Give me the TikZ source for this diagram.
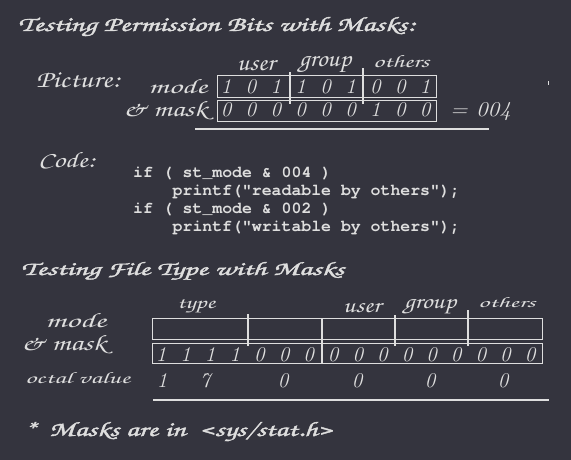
\documentclass[tikz,border=0pt]{standalone}
\usepackage{fontspec}
\usepackage{graphicx}
\newfontfamily\chorus{TeX Gyre Chorus}
\newfontfamily\chorusb[FakeBold=1.6]{TeX Gyre Chorus}
\newfontfamily\codefont{TeX Gyre Cursor}
\definecolor{bgc}{RGB}{52,52,62}
\definecolor{fgc}{RGB}{222,222,222}
\newcommand\fitbox[3]{\resizebox{#1}{#2}{#3}}
\begin{document}
\begin{tikzpicture}[x=1pt,y=-1pt,
  lbl/.style={inner sep=0pt, anchor=base west, text=fgc, font=\chorus\fontsize{20}{24}\selectfont},
  ttl/.style={inner sep=0pt, anchor=base west, text=fgc, font=\chorusb\fontsize{20}{24}\selectfont},
  dig/.style={inner sep=0pt, anchor=base, text=fgc, font=\fontsize{21}{24}\selectfont\itshape},
  code/.style={inner sep=0pt, anchor=base west, text=fgc, font=\codefont\bfseries\fontsize{16.5}{18}\selectfont},
  boxline/.style={draw=fgc, line width=1pt},
  sepline/.style={draw=fgc, line width=2pt},
  rule/.style={draw=fgc, line width=2.2pt}]
\fill[bgc] (0,0) rectangle (571,460);
\useasboundingbox (0,0) rectangle (571,460);

% ---------- section 1 ----------
\node[ttl] (title1) at (18,31) {\fitbox{397pt}{14pt}{Testing Permission Bits with Masks:}};
\node[lbl] (picture) at (36,88) {\fitbox{84pt}{15pt}{Picture:}};
\node[lbl] (mode1) at (148,93) {\fitbox{59pt}{14pt}{mode}};
\node[lbl] (mask1) at (123,117) {\fitbox{84pt}{15pt}{\& mask}};
\node[lbl] (user1) at (237,71) {\fitbox{38pt}{10pt}{user}};
\node[lbl] (group1) at (299,67) {\fitbox{52pt}{10pt}{group}};
\node[lbl] (others1) at (373,67) {\fitbox{56pt}{12pt}{others}};

\draw[boxline] (217.3,76) rectangle (436.7,97.3);
\draw[boxline] (217.3,101) rectangle (436.7,121.7);
\coordinate (s1t) at (290,72); \coordinate (s1b) at (290,104);
\coordinate (s2t) at (363,68); \coordinate (s2b) at (363,104);
\draw[sepline] (s1t) -- (s1b);
\draw[sepline] (s2t) -- (s2b);

\foreach \d [count=\i from 0] in {1,0,1,1,0,1,0,0,1}
  \node[dig] (m\i) at (226+24.9*\i,94) {\d};
\foreach \d [count=\i from 0] in {0,0,0,0,0,0,1,0,0}
  \node[dig] (k\i) at (226+24.9*\i,117) {\d};

\node[inner sep=0pt, anchor=base west, text=fgc, font=\fontsize{21}{24}\selectfont\itshape] (res1) at (450,117) {\fitbox{61pt}{14pt}{= 004}};
\coordinate (r1a) at (195,129); \coordinate (r1b) at (489,129);
\draw[rule] (r1a) -- (r1b);
\coordinate (tka) at (548,81); \coordinate (tkb) at (548,85);
\draw[draw=fgc, line width=1pt] (tka) -- (tkb);

% ---------- code ----------
\node[lbl] (codelbl) at (38,167) {\fitbox{57pt}{15pt}{Code:}};
\node[code] (c1) at (133,177) {if ( st\_mode \& 004 )};
\node[code] (c2) at (172.5,195) {printf("readable by others");};
\node[code] (c3) at (133,213) {if ( st\_mode \& 002 )};
\node[code] (c4) at (172.5,231) {printf("writable by others");};

% ---------- section 2 ----------
\node[ttl] (title2) at (21,275) {\fitbox{323pt}{13pt}{Testing File Type with Masks}};
\node[lbl] (mode2) at (45,327) {\fitbox{61pt}{14pt}{mode}};
\node[lbl] (mask2) at (21,350) {\fitbox{85pt}{15pt}{\& mask}};
\node[lbl] (octal) at (25,383) {\fitbox{105pt}{11pt}{octal value}};
\node[lbl] (type2) at (177,308) {\fitbox{38pt}{9pt}{type}};
\node[lbl] (user2) at (343,312) {\fitbox{38pt}{9pt}{user}};
\node[lbl] (group2) at (404,308) {\fitbox{52pt}{9pt}{group}};
\node[lbl] (others2) at (478,307) {\fitbox{57pt}{10pt}{others}};

\draw[boxline] (152,318) rectangle (542,339);
\draw[boxline] (152,343) rectangle (542,363);
\coordinate (t1t) at (248,314); \coordinate (t1b) at (248,346);
\coordinate (t2t) at (322,318); \coordinate (t2b) at (322,363);
\coordinate (t3t) at (395,315); \coordinate (t3b) at (395,346);
\coordinate (t4t) at (468,310); \coordinate (t4b) at (468,346);
\draw[sepline] (t1t) -- (t1b);
\draw[sepline] (t2t) -- (t2b);
\draw[sepline] (t3t) -- (t3b);
\draw[sepline] (t4t) -- (t4b);

\foreach \d [count=\i from 0] in {1,1,1,1,0,0,0,0,0,0,0,0,0,0,0,0}
  \node[dig] (b\i) at (161+24.6*\i,361) {\d};

\node[dig] (o1) at (162,387) {1};
\node[dig] (o2) at (205,387) {7};
\node[dig] (o3) at (283,387) {0};
\node[dig] (o4) at (357,387) {0};
\node[dig] (o5) at (430,387) {0};
\node[dig] (o6) at (503,387) {0};
\coordinate (r2a) at (153,400); \coordinate (r2b) at (549,400);
\draw[rule] (r2a) -- (r2b);

% ---------- footer ----------
\node[ttl] (foot) at (23,436) {\fitbox{310pt}{14pt}{*\ \ Masks are in\ \ <sys/stat.h>}};
\end{tikzpicture}
\end{document}
